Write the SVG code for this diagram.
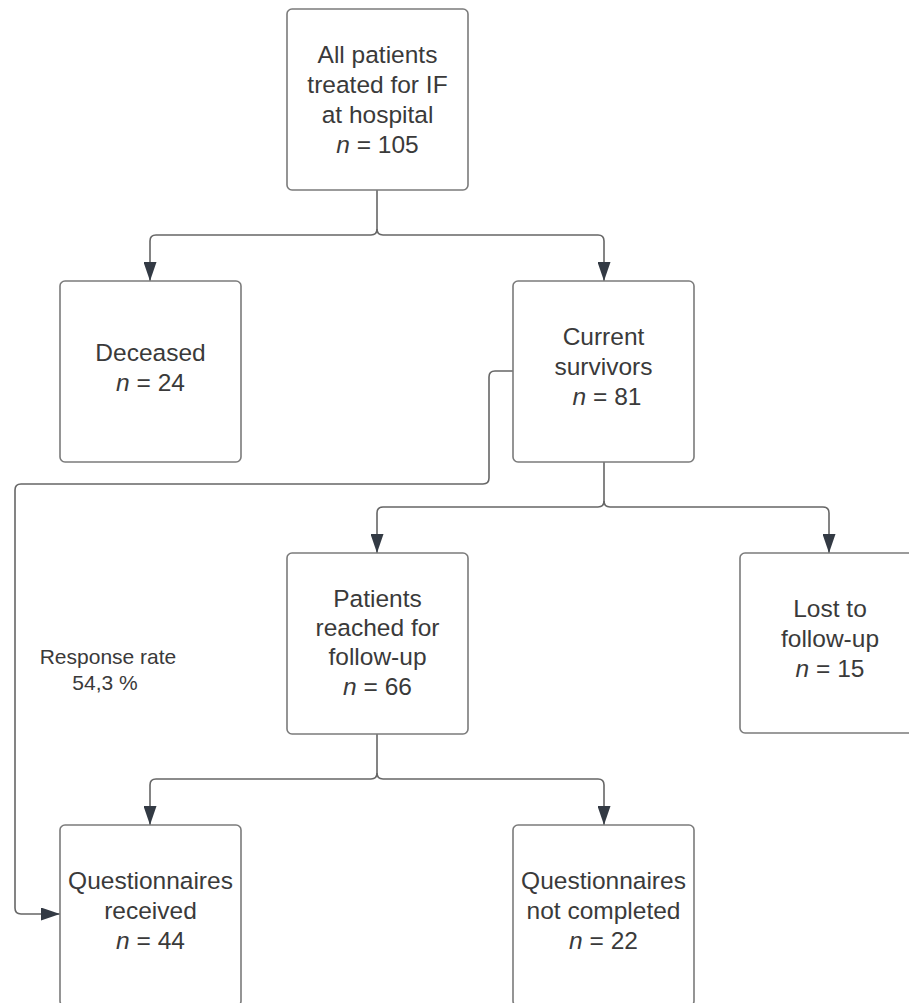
<svg xmlns="http://www.w3.org/2000/svg" width="909" height="1003" viewBox="0 0 909 1003">
<defs>
<style>
.box{fill:#ffffff;stroke:#7b7b7b;stroke-width:1.6}
.t{font-family:"Liberation Sans",Arial,sans-serif;font-size:24.5px;fill:#3a3a3a;text-anchor:middle}
.s{font-family:"Liberation Sans",Arial,sans-serif;font-size:21px;fill:#3a3a3a;text-anchor:middle}
.c{fill:none;stroke:#666666;stroke-width:1.6}
.i{font-style:italic}
</style>
<marker id="ah" markerWidth="19" markerHeight="13" refX="19" refY="6.5" orient="auto" markerUnits="userSpaceOnUse" viewBox="0 0 19 13">
<path d="M0,0 L19,6.5 L0,13 Z" fill="#333a44"/>
</marker>
</defs>
<rect width="909" height="1003" fill="#ffffff"/>
<g id="connectors">
<path class="c" d="M377,190 V229 Q377,235 371,235 H156 Q150,235 150,241 V281" marker-end="url(#ah)"/>
<path class="c" d="M377,229 Q377,235 383,235 H598 Q604,235 604,241 V281" marker-end="url(#ah)"/>
<path class="c" d="M604,462 V501 Q604,507 598,507 H383 Q377,507 377,513 V553" marker-end="url(#ah)"/>
<path class="c" d="M604,501 Q604,507 610,507 H823 Q829,507 829,513 V553" marker-end="url(#ah)"/>
<path class="c" d="M377,734 V773 Q377,779 371,779 H156 Q150,779 150,785 V825" marker-end="url(#ah)"/>
<path class="c" d="M377,773 Q377,779 383,779 H598 Q604,779 604,785 V825" marker-end="url(#ah)"/>
<path class="c" d="M513,371 H495 Q489,371 489,377 V478 Q489,484 483,484 H21 Q15,484 15,490 V908 Q15,914 21,914 H60" marker-end="url(#ah)"/>
</g>
<g id="n_all">
<rect class="box" x="287" y="9" width="181" height="181" rx="5"/>
<text class="t" x="377.5" y="63">All patients</text>
<text class="t" x="377.5" y="93">treated for IF</text>
<text class="t" x="377.5" y="123">at hospital</text>
<text class="t" x="377.5" y="153"><tspan class="i">n</tspan> = 105</text>
</g>
<g id="n_deceased">
<rect class="box" x="60" y="281" width="181" height="181" rx="5"/>
<text class="t" x="150.5" y="361">Deceased</text>
<text class="t" x="150.5" y="391"><tspan class="i">n</tspan> = 24</text>
</g>
<g id="n_survivors">
<rect class="box" x="513" y="281" width="181" height="181" rx="5"/>
<text class="t" x="603.5" y="345">Current</text>
<text class="t" x="603.5" y="375">survivors</text>
<text class="t" x="607" y="405"><tspan class="i">n</tspan> = 81</text>
</g>
<g id="n_reached">
<rect class="box" x="287" y="553" width="181" height="181" rx="5"/>
<text class="t" x="377.5" y="607">Patients</text>
<text class="t" x="377.5" y="636">reached for</text>
<text class="t" x="377.5" y="665">follow-up</text>
<text class="t" x="377.5" y="695"><tspan class="i">n</tspan> = 66</text>
</g>
<g id="n_lost">
<rect class="box" x="740" y="553" width="181" height="180" rx="5"/>
<text class="t" x="830" y="617">Lost to</text>
<text class="t" x="830" y="647">follow-up</text>
<text class="t" x="830" y="677"><tspan class="i">n</tspan> = 15</text>
</g>
<g id="n_received">
<rect class="box" x="60" y="825" width="181" height="181" rx="5"/>
<text class="t" x="150.5" y="889">Questionnaires</text>
<text class="t" x="150.5" y="919">received</text>
<text class="t" x="150.5" y="949"><tspan class="i">n</tspan> = 44</text>
</g>
<g id="n_notcompleted">
<rect class="box" x="513" y="825" width="181" height="181" rx="5"/>
<text class="t" x="603.5" y="889">Questionnaires</text>
<text class="t" x="603.5" y="919">not completed</text>
<text class="t" x="603.5" y="949"><tspan class="i">n</tspan> = 22</text>
</g>
<g id="label_response">
<text class="s" x="108" y="664">Response rate</text>
<text class="s" x="105" y="690">54,3 %</text>
</g>
</svg>
